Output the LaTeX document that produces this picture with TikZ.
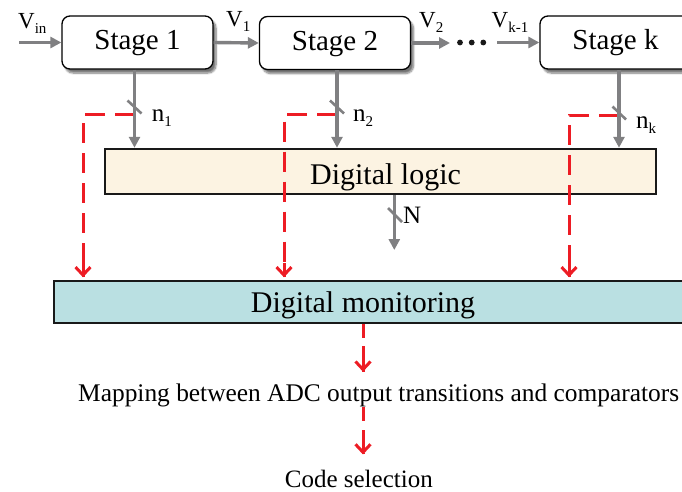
\documentclass[tikz,border=0pt]{standalone}
\usepackage{fontspec}
\setmainfont{Liberation Serif}
\usetikzlibrary{arrows.meta,shadows.blur,calc,decorations.markings}
\definecolor{agray}{RGB}{128,128,130}
\definecolor{ared}{RGB}{237,28,36}
\definecolor{logicfill}{RGB}{252,243,226}
\definecolor{monfill}{RGB}{186,224,226}
\newcommand{\fs}[1]{\fontsize{#1}{#1}\selectfont}
\newcommand{\sublab}[4]{{\fs{#1}#3}{\fs{#2}\raisebox{-5pt}{#4}}}
\begin{document}
\begin{tikzpicture}[x=1pt,y=-1pt,
  stagebox/.style={draw=black, line width=1.3pt, rounded corners=8pt, fill=white,
    minimum width=151pt, minimum height=53pt, inner sep=0pt, font=\fs{29},
    text height=19pt, text depth=5pt,
    blur shadow={shadow xshift=3pt, shadow yshift=-4pt, shadow blur steps=8, shadow opacity=55}},
  bigbox/.style={draw=black!90, line width=2.5pt, inner sep=0pt},
  garrow/.style={draw=agray, line width=3.4pt, -{Triangle[length=11pt,width=11pt]}},
  slashmark/.style={draw=agray, line width=2.6pt},
  rarrow/.style={draw=ared, line width=3pt, dash pattern=on 20pt off 10pt,
    postaction={decorate, decoration={markings, mark=at position 1 with
      {\draw[solid, ared, line width=3pt, -{Straight Barb[length=8pt,width=15pt]}] (-14pt,0pt) -- (0pt,0pt);}}}},
  lab/.style={anchor=base west, inner sep=0pt},
  txt/.style={anchor=base, inner sep=0pt},
  dotnode/.style={circle, fill=black!90, inner sep=0pt, minimum size=5.8pt}]
\useasboundingbox (0,0) rectangle (682,491);
\clip (0,0) rectangle (682,491);

% stages
\node[stagebox] (s1) at (137.5,42.5) {Stage 1};
\node[stagebox] (s2) at (335,43) {Stage 2};
\node[stagebox] (sk) at (615.5,42.5) {Stage k};

% horizontal signal arrows
\coordinate (vin) at (19,42.5);
\draw[garrow] (vin) -- (s1.west);
\draw[garrow] (s1.east) -- (s2.west);
\coordinate (v2end) at (450,43);
\draw[garrow] (s2.east) -- (v2end);
\node[dotnode] (d1) at (460,42.5) {};
\node[dotnode] (d2) at (471.7,42.5) {};
\node[dotnode] (d3) at (483.3,42.5) {};
\coordinate (vkstart) at (497,42.5);
\draw[garrow] (vkstart) -- (sk.west);

\node[lab] (lvin) at (18,28.3) {\sublab{23}{15}{V}{in}};
\node[lab] (lv1) at (226,26.7) {\sublab{23}{15}{V}{1}};
\node[lab] (lv2) at (419,27) {\sublab{23}{15}{V}{2}};
\node[lab] (lvk) at (491.5,27) {\sublab{23}{15}{V}{k-1}};

% boxes
\node[bigbox, fill=logicfill, minimum width=551pt, minimum height=45pt] (dl) at (380.5,171.5) {};
\node[txt, font=\fs{30}] (dltxt) at (385.5,184) {Digital logic};
\node[bigbox, fill=monfill, minimum width=646pt, minimum height=42pt] (dm) at (377,302) {};
\node[txt, font=\fs{30}] (dmtxt) at (363,312.5) {Digital monitoring};

% bottom texts
\node[txt, font=\fs{25.4}] (map) at (378.7,401.5) {Mapping between ADC output transitions and comparators};
\node[txt, font=\fs{25}] (code) at (358.8,487) {Code selection};

% red dashed monitoring paths
\coordinate (t1) at (134.5,0);
\coordinate (t2) at (337,0);
\coordinate (tk) at (619,0);
\coordinate (r1) at (134.5,114.5);
\coordinate (r2) at (337,114.5);
\coordinate (rk) at (619,115);
\coordinate (m1) at (83,0);
\coordinate (m2) at (284,0);
\coordinate (mk) at (569,0);
\draw[rarrow] (r1) -| ($(dm.north -| m1)+(0,-2.5)$);
\draw[rarrow] (r2) -| ($(dm.north -| m2)+(0,-2.5)$);
\draw[rarrow] (rk) -| ($(dm.north -| mk)+(0,-2.5)$);

\coordinate (mb) at (363,0);
\draw[rarrow, dash pattern=on 14pt off 8pt] (dm.south -| mb) -- ($(map.north -| mb)+(0,-12)$);
\draw[rarrow, dash pattern=on 14pt off 9pt] (map.south -| mb) -- ($(code.north -| mb)+(0,-15)$);

% gray vertical arrows
\draw[garrow] (s1.south -| t1) -- (dl.north -| t1);
\draw[garrow] (s2.south -| t2) -- (dl.north -| t2);
\draw[garrow] (sk.south -| tk) -- (dl.north -| tk);
\draw[slashmark] (127.5,100.5) -- (141.5,113.5);
\draw[slashmark] (330,100.5) -- (344,113.5);
\draw[slashmark] (612.5,106.5) -- (626,119.5);
\node[lab] (ln1) at (151.7,121.7) {\sublab{25}{15}{n}{1}};
\node[lab] (ln2) at (353,121) {\sublab{25}{15}{n}{2}};
\node[lab] (lnk) at (636,128.3) {\sublab{25}{15}{n}{k}};

\coordinate (nend) at (394.3,250);
\draw[garrow] (dl.south -| nend) -- (nend);
\draw[slashmark] (388,208) -- (402,222);
\node[lab, font=\fs{25}] (lN) at (403,223) {N};
\end{tikzpicture}
\end{document}
